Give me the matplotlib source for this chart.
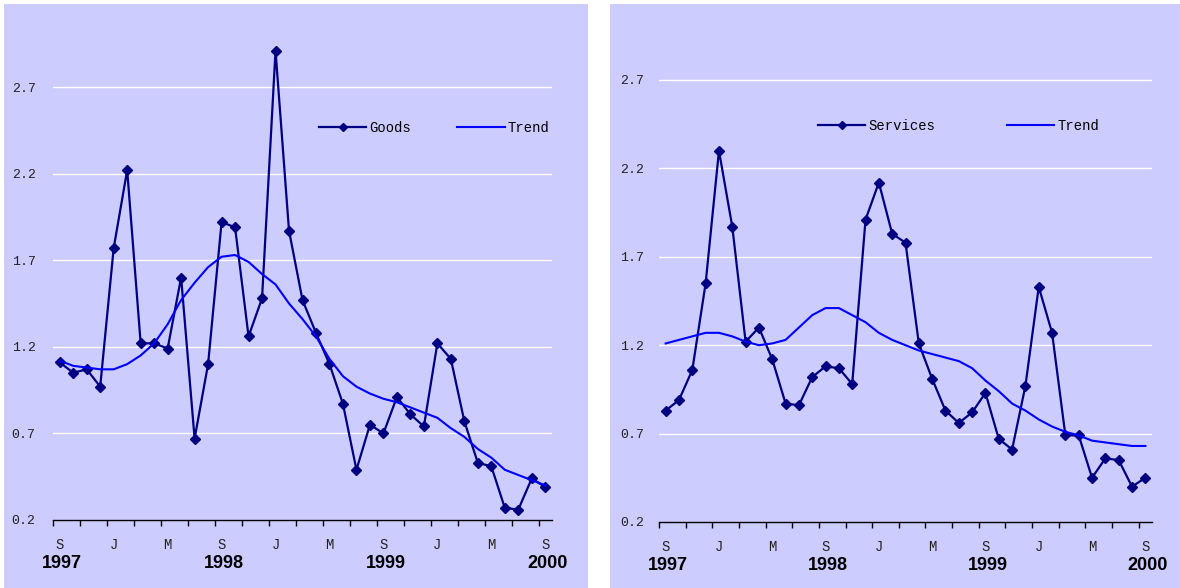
import matplotlib
matplotlib.use('Agg')
import matplotlib.pyplot as plt
from matplotlib.patches import Rectangle

# monthly data, Sep 1997 .. Sep 2000
goods = [1.11, 1.05, 1.07, 0.97, 1.77, 2.22, 1.22, 1.22, 1.19, 1.60, 0.67, 1.10, 1.92,
         1.89, 1.26, 1.48, 2.91, 1.87, 1.47, 1.28, 1.10, 0.87, 0.49, 0.75, 0.70,
         0.91, 0.81, 0.74, 1.22, 1.13, 0.77, 0.53, 0.51, 0.27, 0.26, 0.44, 0.39]
goods_trend = [1.12, 1.09, 1.08, 1.07, 1.07, 1.10, 1.15, 1.22, 1.33, 1.47, 1.57, 1.66, 1.72,
               1.73, 1.69, 1.62, 1.56, 1.45, 1.36, 1.26, 1.13, 1.03, 0.97, 0.93, 0.90,
               0.88, 0.85, 0.82, 0.79, 0.73, 0.68, 0.61, 0.56, 0.49, 0.46, 0.43, 0.40]
services = [0.83, 0.89, 1.06, 1.55, 2.30, 1.87, 1.22, 1.30, 1.12, 0.87, 0.86, 1.02, 1.08,
            1.07, 0.98, 1.91, 2.12, 1.83, 1.78, 1.21, 1.01, 0.83, 0.76, 0.82, 0.93,
            0.67, 0.61, 0.97, 1.53, 1.27, 0.69, 0.69, 0.45, 0.56, 0.55, 0.40, 0.45]
services_trend = [1.21, 1.23, 1.25, 1.27, 1.27, 1.25, 1.22, 1.20, 1.21, 1.23, 1.30, 1.37, 1.41,
                  1.41, 1.37, 1.33, 1.27, 1.23, 1.20, 1.17, 1.15, 1.13, 1.11, 1.07, 1.00,
                  0.94, 0.87, 0.83, 0.78, 0.74, 0.71, 0.69, 0.66, 0.65, 0.64, 0.63, 0.63]

month_labels = ['S', 'J', 'M', 'S', 'J', 'M', 'S', 'J', 'M', 'S']
year_labels = ['1997', '1998', '1999', '2000']
y_ticks = [0.2, 0.7, 1.2, 1.7, 2.2, 2.7]
y_tick_labels = ['0.2', '0.7', '1.2', '1.7', '2.2', '2.7']

mono = 'Liberation Mono'
bg = '#CCCCFF'

fig = plt.figure(figsize=(11.8, 5.88), dpi=100)
W, H = 1180.0, 588.0

# lavender panel backgrounds
fig.patches.append(Rectangle((4 / W, 0), 584 / W, 584 / H, transform=fig.transFigure,
                             facecolor=bg, edgecolor='none', zorder=-10))
fig.patches.append(Rectangle((610 / W, 0), 570 / W, 584 / H, transform=fig.transFigure,
                             facecolor=bg, edgecolor='none', zorder=-10))


def panel(rect, values, trend, name, ylab_pad, leg_anchor, colspace):
    ax = fig.add_axes(rect)
    ax.set_facecolor('none')
    ax.set_zorder(1)
    n = len(values)
    x = [i + 0.5 for i in range(n)]

    ax.plot(x, values, color='#000080', lw=1.6, marker='D', markersize=5,
            label=name, zorder=3)
    ax.plot(x, trend, color='#0000FF', lw=1.5, label='Trend', zorder=4)

    ax.set_xlim(0, n)
    ax.set_ylim(0.2, 3.2)

    # white gridlines
    for v in y_ticks[1:]:
        ax.axhline(v, color='white', lw=1, zorder=1)

    ax.set_yticks(y_ticks)
    ax.set_yticklabels(y_tick_labels, fontfamily=mono, fontsize=9.5, color='#222222')
    ax.tick_params(axis='y', length=0, pad=ylab_pad)

    # month labels centred on categories, tick marks on boundaries
    ax.set_xticks([i + 0.5 for i in range(0, n, 4)])
    ax.set_xticklabels(month_labels, fontfamily=mono, fontsize=10, color='#222222')
    ax.set_xticks(list(range(0, n, 2)), minor=True)
    ax.tick_params(axis='x', which='major', length=0, pad=13)
    ax.tick_params(axis='x', which='minor', length=4, width=1, direction='out', color='black')

    for k, yr in enumerate(year_labels):
        ax.annotate(yr, xy=(k * 12 + 0.5, 0), xycoords=('data', 'axes fraction'),
                    xytext=(1.5, -31), textcoords='offset points', ha='center', va='center',
                    fontsize=13, fontweight='bold', fontfamily='Liberation Sans')

    for s in ['top', 'right', 'left']:
        ax.spines[s].set_visible(False)
    ax.spines['bottom'].set_color('black')
    ax.spines['bottom'].set_linewidth(1)

    ax.legend(loc='center left', bbox_to_anchor=leg_anchor, bbox_transform=fig.transFigure,
              ncol=2, frameon=False, handlelength=3.4, handletextpad=0.2, columnspacing=colspace,
              borderpad=0, borderaxespad=0, prop={'family': mono, 'size': 10}, markerscale=0.9)
    return ax


panel([53 / W, 68 / H, 499 / W, 519.6 / H], goods, goods_trend, 'Goods', 12.5,
      (319 / W, 1 - 128 / H), 3.35)
panel([659 / W, 66 / H, 493 / W, 530.4 / H], services, services_trend, 'Services', 10.5,
      (818 / W, 1 - 126 / H), 5.2)

fig.savefig('out.png', dpi=100, facecolor='white')
